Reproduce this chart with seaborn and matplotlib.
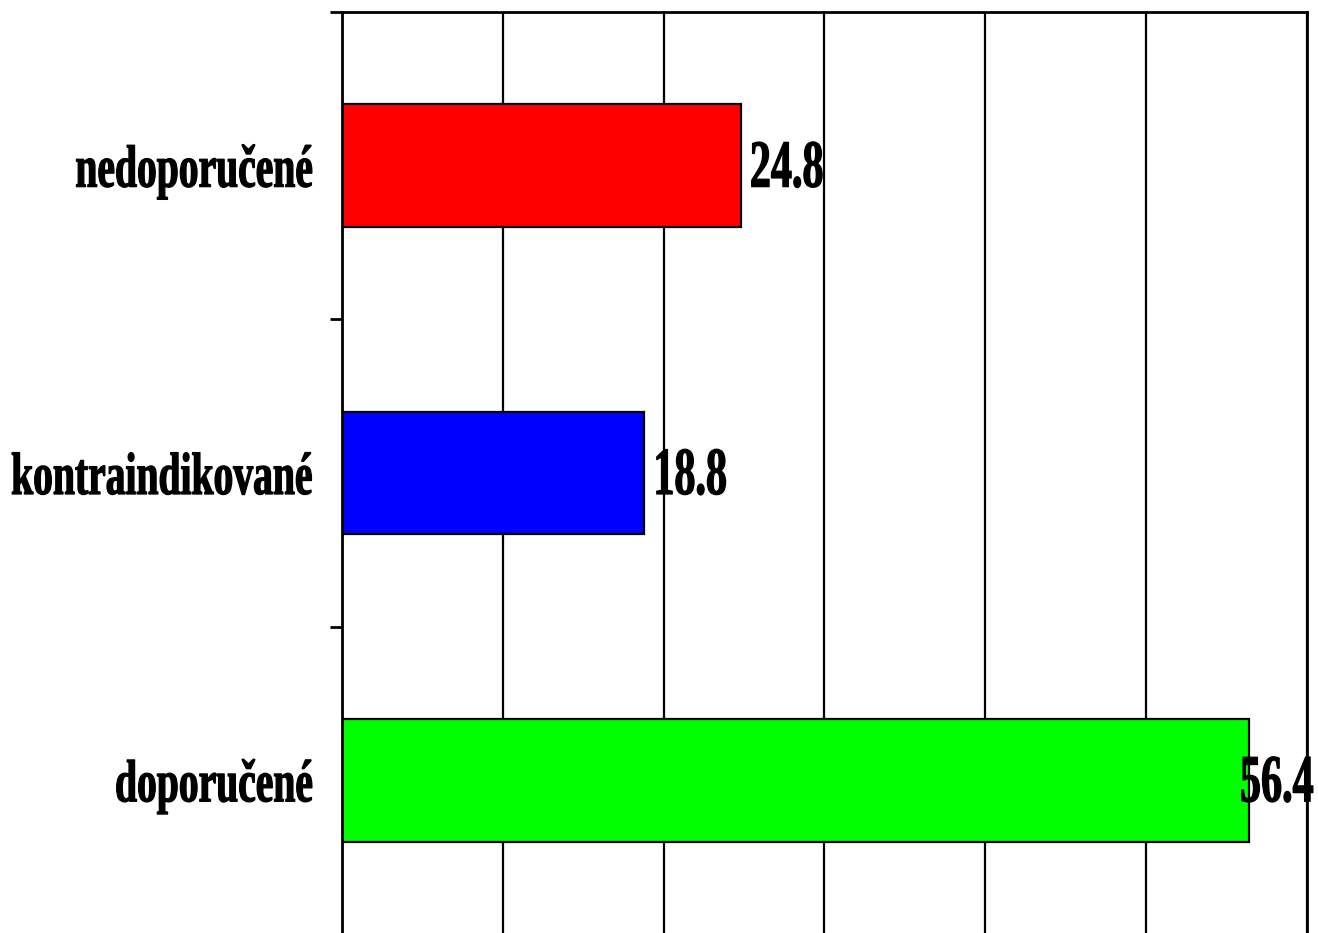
import matplotlib
matplotlib.use("Agg")
import matplotlib.pyplot as plt
import seaborn as sns
import pandas as pd
from matplotlib.patheffects import AbstractPathEffect
from matplotlib.transforms import Affine2D, ScaledTranslation, blended_transform_factory

categories = ["nedoporučené", "kontraindikované", "doporučené"]
values = [24.8, 18.8, 56.4]
bar_colors = ["#FF0000", "#0000FF", "#00FF00"]
x_ticks = [0, 10, 20, 30, 40, 50, 60]


class Stretch(AbstractPathEffect):
    """Stretch glyphs vertically about the baseline and embolden them slightly
    (mimics a narrow heavy serif face)."""
    def __init__(self, sy, stroke=0.9):
        super().__init__()
        self.sy = sy
        self.stroke = stroke

    def draw_path(self, renderer, gc, tpath, affine, rgbFace=None):
        pre = Affine2D().scale(1.0, self.sy)
        gc0 = renderer.new_gc()
        gc0.copy_properties(gc)
        gc0.set_linewidth(self.stroke)
        if rgbFace is not None:
            gc0.set_foreground(rgbFace)
        gc0.set_joinstyle("round")
        renderer.draw_path(gc0, tpath, pre + affine, rgbFace)
        gc0.restore()


sns.set_theme(style="white")
plt.rcParams["font.family"] = ["Liberation Serif", "DejaVu Serif"]

W, H = 1318, 933
DPI = 100
fig = plt.figure(figsize=(W / DPI, H / DPI), dpi=DPI)
ax = fig.add_axes([342 / W, (933 - 934) / H, (1307 - 342) / W, (934 - 12) / H])

df = pd.DataFrame({"cat": categories, "val": values})
sns.barplot(data=df, x="val", y="cat", hue="cat", palette=bar_colors,
            legend=False, width=0.4, edgecolor="black", linewidth=1.6,
            saturation=1, ax=ax)

ax.set_xlim(0, 60)
ax.set_ylim(2.5, -0.5)
ax.set_xticks(x_ticks)
ax.set_xticklabels([])
ax.tick_params(axis="x", length=0)
ax.xaxis.grid(True, color="black", linewidth=1.6)
ax.yaxis.grid(False)
ax.set_axisbelow(True)
ax.set_xlabel("")
ax.set_ylabel("")

for s in ax.spines.values():
    s.set_visible(True)
    s.set_color("black")
    s.set_linewidth(2)

# boundary ticks on the category axis, labels drawn as texts
ax.set_yticks([])
ax.set_yticks([-0.5, 0.5, 1.5, 2.5], minor=True)
ax.tick_params(axis="y", which="minor", length=9, width=2, color="black",
               direction="out", left=True)

lab_trans = (blended_transform_factory(ax.transAxes, ax.transData)
             + ScaledTranslation(-29 / DPI, -21 / DPI, fig.dpi_scale_trans))
for i, c in enumerate(categories):
    t = ax.text(0, i, c, transform=lab_trans, ha="right", va="baseline",
                fontsize=28.5, fontweight="bold", color="black", clip_on=False)
    t.set_path_effects([Stretch(43 / 28.5)])

# value labels
px_per_unit = (1307 - 342) / 60.0
label_w = 73 / px_per_unit
limit = 60 + 6 / px_per_unit
val_trans = ax.transData + ScaledTranslation(0, -21 / DPI, fig.dpi_scale_trans)
for i, v in enumerate(values):
    start = v + 9 / px_per_unit
    if start + label_w > limit:
        start = limit - label_w
    t = ax.text(start, i, f"{v:.1f}", transform=val_trans, ha="left",
                va="baseline", fontsize=30.3, fontweight="bold", color="black",
                clip_on=False)
    t.set_path_effects([Stretch(48.5 / 30.3)])

fig.savefig("out.png", dpi=DPI)
